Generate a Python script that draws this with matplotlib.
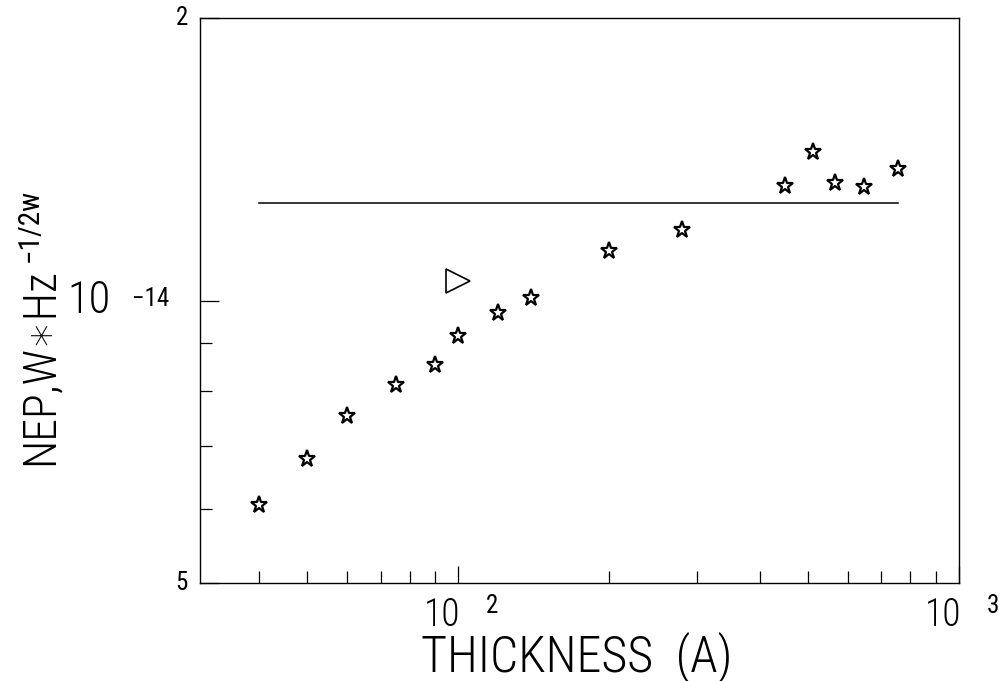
import matplotlib
matplotlib.use('Agg')
import numpy as np
import matplotlib.pyplot as plt
from matplotlib.ticker import FixedLocator, NullFormatter
import matplotlib.transforms as mtransforms

# measured points (thickness in A, NEP in W*Hz^-1/2)
thickness = [40, 50, 60, 75, 90, 100, 120, 140, 200, 280, 450, 510, 565, 645, 755]
nep = [6.05e-15, 6.78e-15, 7.53e-15, 8.12e-15, 8.53e-15, 9.17e-15, 9.69e-15,
       1.005e-14, 1.128e-14, 1.19e-14, 1.325e-14, 1.44e-14, 1.333e-14,
       1.32e-14, 1.38e-14]

# single triangle point
tri_x = [100]
tri_y = [1.05e-14]

# horizontal reference level
level_x = [40, 755]
level_y = [1.27e-14, 1.27e-14]

x_major = [100, 1000]
x_base = ['10', '10']
x_exp = ['2', '3']
x_minor = [40, 50, 60, 70, 80, 90, 200, 300, 400, 500, 600, 700, 800, 900]

y_major = [5e-15, 1e-14, 2e-14]
y_base = ['5', '10', '2']
y_exp = ['', '\u221214', '']
y_minor = [6e-15, 7e-15, 8e-15, 9e-15]

fam = ['Roboto Condensed', 'DejaVu Sans']
plt.rcParams['font.family'] = fam
plt.rcParams['font.weight'] = 'light'

W, H = 1005, 681
fig = plt.figure(figsize=(W / 100, H / 100), dpi=100)
ax = fig.add_axes([200 / W, 1 - 583 / H, 759 / W, 565 / H])
ax.set_xscale('log')
ax.set_yscale('log')

ax.plot(thickness, nep, linestyle='none', marker='*', markersize=12.5,
        markerfacecolor='white', markeredgecolor='black', markeredgewidth=1.6)
ax.plot(tri_x, tri_y, linestyle='none', marker='>', markersize=17,
        markerfacecolor='white', markeredgecolor='black', markeredgewidth=1.2)
ax.plot(level_x, level_y, color='black', linewidth=1.1)

ax.set_xlim(30.5, 1000)
ax.set_ylim(5e-15, 2e-14)

ax.xaxis.set_major_locator(FixedLocator(x_major))
ax.xaxis.set_minor_locator(FixedLocator(x_minor))
ax.yaxis.set_major_locator(FixedLocator(y_major))
ax.yaxis.set_minor_locator(FixedLocator(y_minor))
for a in (ax.xaxis, ax.yaxis):
    a.set_major_formatter(NullFormatter())
    a.set_minor_formatter(NullFormatter())

ax.tick_params(which='both', direction='in', top=False, right=False, width=0.9)
ax.tick_params(axis='x', which='major', length=12)
ax.tick_params(axis='x', which='minor', length=8.5)
ax.tick_params(axis='y', which='major', length=14)
ax.tick_params(axis='y', which='minor', length=8.5)
for s in ax.spines.values():
    s.set_linewidth(1.0)

# tick labels as "10" plus a small exponent, like the old plotter output
px = 0.72  # points per pixel
xt = mtransforms.blended_transform_factory(ax.transData, ax.transAxes)
for xv, b, e in zip(x_major, x_base, x_exp):
    ax.annotate(b, (xv, 0), xycoords=xt, xytext=(-16 * px, -13 * px),
                textcoords='offset points', ha='center', va='top', fontsize=27)
    ax.annotate(e, (xv, 0), xycoords=xt, xytext=(28 * px, -11 * px),
                textcoords='offset points', ha='left', va='top', fontsize=18,
                fontweight='normal')

yt = mtransforms.blended_transform_factory(ax.transAxes, ax.transData)
for yv, b, e in zip(y_major, y_base, y_exp):
    if e:
        ax.annotate(b, (0, yv), xycoords=yt, xytext=(-89 * px, 0),
                    textcoords='offset points', ha='right', va='center', fontsize=32)
        ax.annotate(e, (0, yv), xycoords=yt, xytext=(-68 * px, 14 * px),
                    textcoords='offset points', ha='left', va='top', fontsize=18,
                    fontweight='normal')
    else:
        ax.annotate(b, (0, yv), xycoords=yt, xytext=(-12 * px, 0),
                    textcoords='offset points', ha='right', va='center', fontsize=18,
                    fontweight='normal')

# axis titles
fig.text(577 / W, 1 - 671 / H, 'THICKNESS  (A)', ha='center', va='baseline',
         fontsize=36)
ylab = fig.text(53 / W, 1 - 465 / H, 'NEP,W\u2217Hz', rotation=90,
                rotation_mode='anchor', ha='left', va='baseline', fontsize=33)
fig.canvas.draw()
bb = ylab.get_window_extent(fig.canvas.get_renderer())
fig.text(38 / W, (bb.y1 + 6) / H, '\u22121/2w', rotation=90, rotation_mode='anchor',
         ha='left', va='baseline', fontsize=21, fontweight='normal')

fig.savefig('out.png', dpi=100)
